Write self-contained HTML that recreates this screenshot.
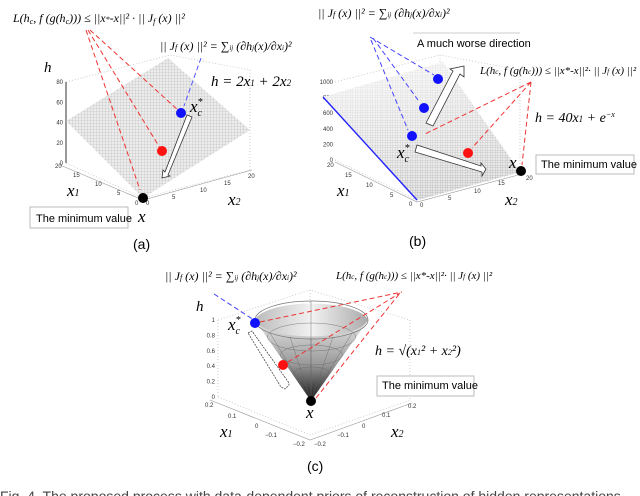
<!DOCTYPE html>
<html><head><meta charset="utf-8"><style>
html,body{margin:0;padding:0;background:#fff}
svg{display:block;font-family:"Liberation Serif",serif}
.sans{font-family:"Liberation Sans",sans-serif}
</style></head><body>
<svg width="640" height="496" viewBox="0 0 640 496">
<defs>
<pattern id="mesh" width="3" height="3" patternUnits="userSpaceOnUse"><rect width="3" height="3" fill="#ececec"/><path d="M0 0H3M0 0V3" stroke="#b5b5b5" stroke-width="0.6"/></pattern>
<pattern id="mesh2" width="2.5" height="2.5" patternUnits="userSpaceOnUse"><rect width="2.5" height="2.5" fill="#e6e6e6"/><path d="M0 0H2.5M0 0V2.5" stroke="#999" stroke-width="0.5"/></pattern>
<linearGradient id="gb" x1="0.3" y1="0" x2="0.6" y2="1"><stop offset="0" stop-color="#fff" stop-opacity="0.75"/><stop offset="1" stop-color="#fff" stop-opacity="0"/></linearGradient>
<linearGradient id="cone" x1="0" y1="0" x2="0" y2="1"><stop offset="0" stop-color="#e6e6e6"/><stop offset="0.55" stop-color="#999"/><stop offset="1" stop-color="#111"/></linearGradient>
<linearGradient id="coneIn" x1="0" y1="0" x2="1" y2="0"><stop offset="0" stop-color="#bbb"/><stop offset="0.5" stop-color="#f2f2f2"/><stop offset="1" stop-color="#aaa"/></linearGradient>
</defs>

<!-- Panel A -->
<g>
 <g stroke="#bbb" stroke-dasharray="1,2" fill="none" stroke-width="0.7">
  <path d="M66 82L170 55L250 70M66 163L143 198M143 198L250 170M66 82V163M250 70V170"/>
 </g>
 <line x1="66" y1="82" x2="66" y2="163" stroke="#555" stroke-width="1.2"/>
 <g id="ticksA" font-size="6" class="sans" fill="#333"></g>
 <polygon points="66,121 168,58 250,130 143,198" fill="url(#mesh)"/>
 <path d="M60 165L143 200L252 170" stroke="#999" stroke-width="0.6" fill="none"/>
 <g font-size="6" class="sans" fill="#333">
  <text x="55" y="168">20</text><text x="73" y="177">15</text><text x="95" y="186">10</text><text x="117" y="195">5</text><text x="135" y="205">0</text>
  <text x="146" y="205">0</text><text x="172" y="199">5</text><text x="200" y="192">10</text><text x="224" y="185">15</text><text x="248" y="178">20</text>
 </g>
 <g stroke="#e33" stroke-width="1" stroke-dasharray="5,3" fill="none">
  <path d="M86 30L140 190M88 30L160 148M90 30L178 110"/></g>
 <path d="M201 58L184 106" stroke="#55f" stroke-dasharray="5,3"/>
 <polygon points="187,115 192,117 168,175 170,176 162,178 163,170 165,172" fill="#fff" stroke="#333" stroke-width="0.8"/>
 <circle cx="181" cy="113" r="5" fill="#11f"/>
 <circle cx="162" cy="151" r="5" fill="#f11"/>
 <circle cx="143" cy="198" r="5" fill="#000"/>
 <text x="13" y="22" font-size="12" font-style="italic">L(h<tspan font-size="8" dy="2">c</tspan><tspan dy="-2">, f (g(h</tspan><tspan font-size="8" dy="2">c</tspan><tspan dy="-2">))) ≤ ||x</tspan><tspan font-size="8">*</tspan><tspan>-x||² · || J</tspan><tspan font-size="8" dy="2">f</tspan><tspan dy="-2"> (x) ||²</tspan></text>
 <text x="160" y="50" font-size="12" font-style="italic">|| J<tspan font-size="8">f</tspan> (x) ||² = ∑<tspan font-size="7">ij</tspan> (∂h<tspan font-size="7">j</tspan>(x)/∂x<tspan font-size="7">i</tspan>)²</text>
 <text x="44" y="72" font-size="15" font-style="italic">h</text>
 <text x="211" y="86" font-size="15" font-style="italic">h = 2x<tspan font-size="9">1</tspan> + 2x<tspan font-size="9">2</tspan></text>
 <text x="190" y="112" font-size="17" font-style="italic">x<tspan font-size="10" dy="-7">*</tspan><tspan font-size="10" dx="-5" dy="11">c</tspan></text>
 <text x="67" y="196" font-size="17" font-style="italic">x<tspan font-size="10">1</tspan></text>
 <text x="228" y="205" font-size="17" font-style="italic">x<tspan font-size="10">2</tspan></text>
 <rect x="30" y="207" width="98" height="21" fill="#fff" stroke="#bbb"/>
 <text x="36" y="222" font-size="11" class="sans">The minimum value</text>
 <text x="138" y="222" font-size="17" font-style="italic">x</text>
 <text x="133" y="249" font-size="14" class="sans">(a)</text>
</g>

<!-- Panel B -->
<g>
 <g stroke="#bbb" stroke-dasharray="1,2" fill="none" stroke-width="0.7">
  <path d="M335 82L440 55L520 70M335 160L417 200M417 200L520 172M520 70V172M440 55V150"/></g>
 <g id="ticksB" font-size="6" class="sans" fill="#333"></g>
 <polygon points="323,97 443,62 520,172 417,200" fill="url(#mesh2)"/>
 <polygon points="323,97 443,62 520,172 417,200" fill="url(#gb)"/>
 <line x1="323" y1="97" x2="417" y2="200" stroke="#22f" stroke-width="1.4"/>
 <path d="M335 162L417 202L522 174" stroke="#999" fill="none" stroke-width="0.6"/>
 <g font-size="6" class="sans" fill="#333">
  <text x="327" y="167">20</text><text x="345" y="177">15</text><text x="366" y="187">10</text><text x="390" y="197">5</text><text x="409" y="206">0</text>
  <text x="420" y="207">0</text><text x="448" y="200">5</text><text x="474" y="193">10</text><text x="498" y="185">15</text><text x="526" y="180">20</text>
 </g>
 <line x1="413" y1="33" x2="520" y2="33" stroke="#ccc"/>
 <text x="417" y="47" font-size="11" class="sans">A much worse direction</text>
 <g stroke="#44f" stroke-width="1" stroke-dasharray="5,3" fill="none">
  <path d="M370 37L434 75M373 38L418 100M371 40L408 130"/></g>
 <g stroke="#e33" stroke-width="1" stroke-dasharray="5,3" fill="none">
  <path d="M531 82L425 134M531 82L472 148M531 82L522 165"/></g>
 <polygon points="426,123 453,71 450,69 464,66 464,77 460,74 433,126" fill="#fff" stroke="#333" stroke-width="0.8"/>
 <polygon points="417,145 481,166 481,163 486,169 482,176 482,172 415,152" fill="#fff" stroke="#333" stroke-width="0.8"/>
 <circle cx="438" cy="79" r="5" fill="#11f"/>
 <circle cx="424" cy="108" r="5" fill="#11f"/>
 <circle cx="412" cy="136" r="5" fill="#11f"/>
 <circle cx="468" cy="153" r="5" fill="#f11"/>
 <circle cx="521" cy="171" r="5" fill="#000"/>
 <text x="318" y="17" font-size="12" font-style="italic">|| J<tspan font-size="8">f</tspan> (x) ||² = ∑<tspan font-size="7">ij</tspan> (∂h<tspan font-size="7">j</tspan>(x)/∂x<tspan font-size="7">i</tspan>)²</text>
 <text x="480" y="74" font-size="11" font-style="italic">L(h<tspan font-size="7">c</tspan>, f (g(h<tspan font-size="7">c</tspan>))) ≤ ||x*-x||²· || J<tspan font-size="7">f</tspan> (x) ||²</text>
 <text x="535" y="122" font-size="14" font-style="italic">h = 40x<tspan font-size="9">1</tspan> + e<tspan font-size="8" dy="-5">−x</tspan></text>
 <text x="397" y="158" font-size="17" font-style="italic">x<tspan font-size="10" dy="-7">*</tspan><tspan font-size="10" dx="-5" dy="11">c</tspan></text>
 <text x="509" y="168" font-size="17" font-style="italic">x</text>
 <rect x="536" y="155" width="98" height="19" fill="#fff" stroke="#bbb"/>
 <text x="541" y="168" font-size="11" class="sans">The minimum value</text>
 <text x="337" y="196" font-size="17" font-style="italic">x<tspan font-size="10">1</tspan></text>
 <text x="505" y="205" font-size="17" font-style="italic">x<tspan font-size="10">2</tspan></text>
 <text x="409" y="246" font-size="14" class="sans">(b)</text>
</g>

<!-- Panel C -->
<g>
 <g stroke="#bbb" stroke-dasharray="1,2" fill="none" stroke-width="0.7">
  <path d="M218 320L310 290L410 320M218 397L310 435L410 400M218 320V397M410 320V400M310 290V400"/></g>
 <g id="ticksC" font-size="6" class="sans" fill="#333"></g>
 <path d="M210 400L310 440L412 403" stroke="#999" fill="none" stroke-width="0.6"/>
 <g font-size="6" class="sans" fill="#333">
  <text x="205" y="407">0.2</text><text x="228" y="418">0.1</text><text x="255" y="428">0</text><text x="265" y="437">−0.1</text><text x="293" y="446">−0.2</text>
  <text x="314" y="446">−0.2</text><text x="337" y="437">−0.1</text><text x="362" y="428">0</text><text x="382" y="417">0.1</text><text x="408" y="408">0.2</text>
 </g>
 <path d="M255 320A57 19 0 0 1 368 320L311 401Z" fill="url(#coneIn)"/>
 <path d="M255 320A57 19 0 0 0 368 320L311 401Z" fill="url(#cone)"/>
 <ellipse cx="311.5" cy="320" rx="56.5" ry="19" fill="none" stroke="#777" stroke-width="0.7"/>
 <g stroke="#666" stroke-width="0.4" fill="none">
  <path d="M311 401L270 333M311 401L290 337M311 401L311 339M311 401L333 337M311 401L352 333M311 401L311 301"/>
  <ellipse cx="311.5" cy="337" rx="44" ry="14"/><ellipse cx="311.5" cy="355" rx="31" ry="10"/><ellipse cx="311.5" cy="373" rx="18" ry="6"/>
 </g>
 <path d="M214 294L254 320" stroke="#44f" stroke-dasharray="5,3"/>
 <g stroke="#e33" stroke-width="1" stroke-dasharray="5,3" fill="none">
  <path d="M260 322L402 292M288 362L400 293M316 398L400 293"/></g>
 <polygon points="248,333 252,331 289,383 289,385 285,389 281,387" fill="#fff" stroke="#333" stroke-width="0.7" stroke-dasharray="2,1"/>
 <circle cx="255" cy="323" r="5" fill="#11f"/>
 <circle cx="283" cy="365" r="5" fill="#f11"/>
 <circle cx="311" cy="401" r="5" fill="#000"/>
 <text x="165" y="280" font-size="12" font-style="italic">|| J<tspan font-size="8">f</tspan> (x) ||² = ∑<tspan font-size="7">ij</tspan> (∂h<tspan font-size="7">j</tspan>(x)/∂x<tspan font-size="7">i</tspan>)²</text>
 <text x="336" y="279" font-size="11" font-style="italic">L(h<tspan font-size="7">c</tspan>, f (g(h<tspan font-size="7">c</tspan>))) ≤ ||x*-x||²· || J<tspan font-size="7">f</tspan> (x) ||²</text>
 <text x="196" y="311" font-size="15" font-style="italic">h</text>
 <text x="228" y="330" font-size="17" font-style="italic">x<tspan font-size="10" dy="-7">*</tspan><tspan font-size="10" dx="-5" dy="11">c</tspan></text>
 <text x="375" y="355" font-size="14" font-style="italic">h = √(x<tspan font-size="8">1</tspan>² + x<tspan font-size="8">2</tspan>²)</text>
 <rect x="377" y="376" width="97" height="20" fill="#fff" stroke="#bbb"/>
 <text x="382" y="389" font-size="11" class="sans">The minimum value</text>
 <text x="306" y="418" font-size="17" font-style="italic">x</text>
 <text x="220" y="437" font-size="17" font-style="italic">x<tspan font-size="10">1</tspan></text>
 <text x="391" y="437" font-size="17" font-style="italic">x<tspan font-size="10">2</tspan></text>
 <text x="307" y="471" font-size="14" class="sans">(c)</text>
</g>
<text x="0" y="501" font-size="14" class="sans" fill="#444">Fig. 4.  The proposed process with data-dependent priors of reconstruction of hidden representations</text>
</svg>
<script>
const ticksA = ["0","20","40","60","80"];
const ticksB = ["0","200","400","600","800","1000"];
const ticksC = ["0","0.2","0.4","0.6","0.8","1"];
function drawTicks(id, labels, x, y0, y1){
  const g=document.getElementById(id);
  labels.forEach((t,i)=>{
    const y=y0+(y1-y0)*i/(labels.length-1);
    const el=document.createElementNS("http://www.w3.org/2000/svg","text");
    
    
    el.setAttribute("x",x);el.setAttribute("y",y+2);el.setAttribute("text-anchor","end");
    el.textContent=t;g.appendChild(el);
  });
}
drawTicks("ticksA",ticksA,63,163,82);
drawTicks("ticksB",ticksB,333,160,82);
drawTicks("ticksC",ticksC,215,397,320);
</script>
</body></html>
